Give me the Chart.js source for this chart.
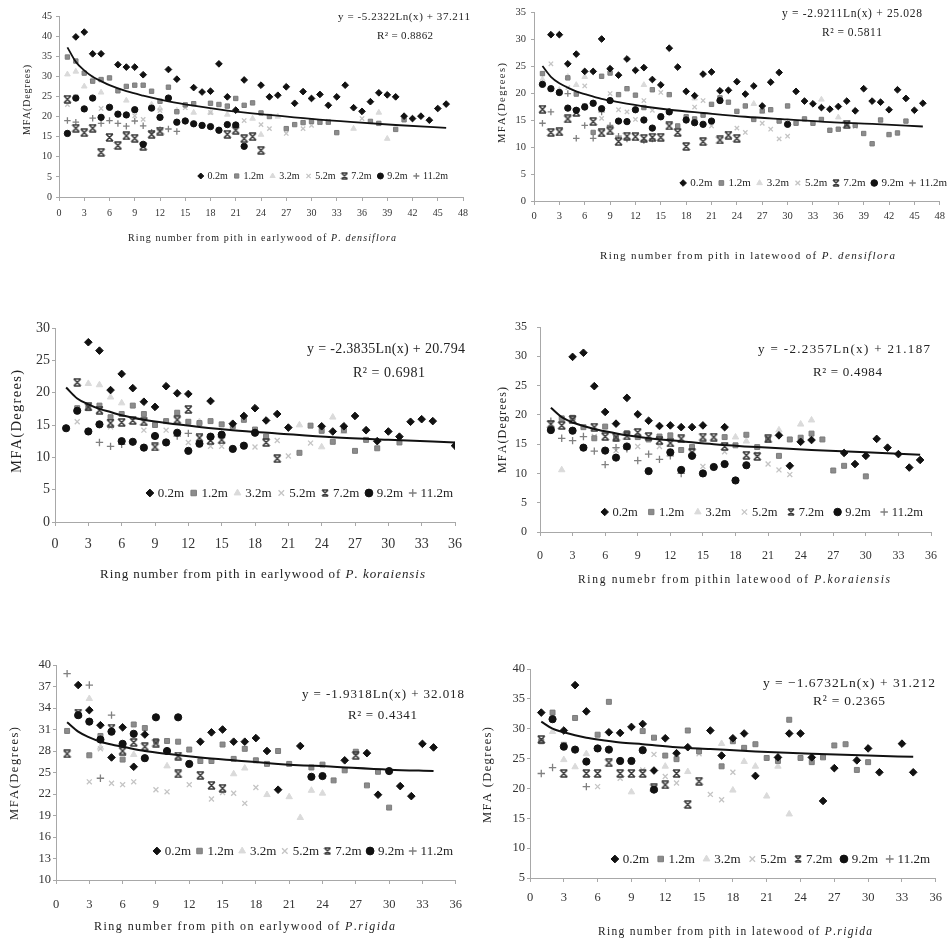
<!DOCTYPE html>
<html>
<head>
<meta charset="utf-8">
<script src="https://cdn.jsdelivr.net/npm/chart.js@4.4.1/dist/chart.umd.min.js"></script>
<style>
body { margin: 0; background: #fff; }
#wrap { position: relative; width: 950px; height: 942px; overflow: hidden; background: #fff; }
#wrap canvas { position: absolute; }
</style>
</head>
<body>
<div id="wrap"></div>
<script>
// series labels (sampling height)
var heights = ['0.2m', '1.2m', '3.2m', '5.2m', '7.2m', '9.2m', '11.2m'];

// ---- P. densiflora, earlywood ----
var densEw02 = [[2,39.8],[3,41.0],[4,35.6],[5,35.6],[7,32.9],[8,32.3],[9,32.3],[10,30.4],[13,31.7],[14,29.3],[16,27.2],[17,26.1],[18,26.3],[19,33.1],[20,24.9],[21,21.6],[22,29.1],[24,27.8],[25,24.9],[26,25.3],[27,27.4],[28,23.3],[29,26.2],[30,24.5],[31,25.5],[32,22.8],[33,24.9],[34,27.8],[35,22.2],[36,21.3],[37,23.7],[38,25.9],[39,25.4],[40,24.9],[41,20.1],[42,19.5],[43,20.1],[44,19.1],[45,22.0],[46,23.1]];
var densEw12 = [[1,34.8],[2,33.8],[3,30.8],[4,28.8],[5,29.2],[6,29.6],[7,26.4],[8,27.5],[9,27.8],[10,27.8],[11,26.3],[12,23.8],[13,27.3],[14,21.2],[15,22.9],[16,23.2],[18,23.3],[19,23.0],[20,22.6],[21,24.5],[22,22.8],[23,23.4],[24,20.9],[25,20.0],[27,17.0],[28,18.0],[29,18.5],[30,18.8],[31,18.6],[32,18.6],[33,16.0],[37,18.8],[38,18.3],[40,16.8],[41,19.2]];
var densEw32 = [[1,30.5],[2,31.2],[3,27.5],[4,29.5],[5,26.0],[8,24.0],[11,23.0],[12,22.0],[14,21.5],[16,21.0],[18,21.0],[20,20.5],[23,19.5],[24,15.5],[26,20.0],[35,17.0],[38,21.0],[39,14.5]];
var densEw52 = [[1,23.0],[2,25.0],[5,22.0],[9,20.2],[10,19.3],[12,21.5],[15,22.2],[18,21.0],[22,19.0],[24,18.0],[25,17.0],[27,15.8],[29,17.0],[30,17.8],[31,18.5],[32,18.8],[36,19.5]];
var densEw72 = [[1,24.3],[2,17.1],[3,16.0],[4,17.1],[5,11.1],[6,14.8],[7,12.8],[8,15.2],[9,14.6],[10,12.6],[11,15.6],[12,16.4],[20,15.6],[21,16.6],[22,14.5],[23,15.0],[24,11.6]];
var densEw92 = [[1,15.8],[2,24.6],[3,21.9],[4,24.6],[5,19.8],[6,22.3],[7,20.6],[8,20.4],[9,21.7],[10,13.1],[11,22.1],[12,19.8],[13,24.6],[14,18.6],[15,18.9],[16,18.2],[17,17.8],[18,17.5],[19,16.6],[20,18.0],[21,17.9],[22,12.6]];
var densEw112 = [[1,19.0],[2,18.6],[4,19.6],[5,18.3],[6,19.0],[7,18.3],[8,17.6],[9,18.9],[10,17.7],[11,16.1],[12,16.7],[13,16.9],[14,16.3]];
var densEwTrend = [[1,37.2],[2,33.6],[3,31.5],[4,29.9],[5,28.8],[6,27.8],[8,26.3],[10,25.2],[13,23.8],[16,22.7],[20,21.5],[25,20.4],[30,19.4],[35,18.6],[40,17.9],[46,17.2]];

// ---- P. densiflora, latewood ----
var densLw02 = [[2,30.8],[3,30.8],[4,25.4],[5,27.2],[6,24.0],[7,24.0],[8,30.0],[9,24.5],[10,23.3],[11,26.3],[12,24.2],[13,24.7],[14,22.5],[15,21.5],[16,28.3],[17,24.8],[18,20.3],[19,19.5],[20,23.5],[21,23.9],[22,20.4],[23,20.5],[24,22.1],[25,19.8],[26,21.3],[27,17.6],[28,22.0],[29,23.8],[31,20.3],[32,18.5],[33,18.0],[34,17.3],[35,17.0],[36,17.5],[37,18.5],[38,16.7],[39,20.8],[40,18.5],[41,18.3],[42,16.9],[43,20.6],[44,19.0],[45,16.8],[46,18.1]];
var densLw12 = [[1,23.6],[3,20.1],[4,22.8],[5,19.8],[6,17.6],[7,12.7],[8,23.1],[9,23.7],[10,19.7],[11,20.8],[12,19.6],[13,17.3],[14,20.6],[15,15.7],[16,19.7],[17,13.9],[18,15.6],[19,15.2],[20,15.9],[21,17.9],[22,19.1],[23,18.3],[24,16.6],[25,17.6],[26,15.1],[27,16.7],[28,16.9],[29,14.8],[30,17.6],[31,14.4],[32,15.2],[33,14.4],[34,15.1],[35,13.1],[36,13.3],[37,14.2],[38,14.0],[39,12.5],[40,10.6],[41,15.0],[42,12.3],[43,12.6],[44,14.8]];
var densLw32 = [[1,22.5],[3,20.6],[4,23.0],[5,21.5],[6,23.0],[13,21.5],[19,19.0],[26,18.0],[27,16.5],[34,18.8],[36,15.5]];
var densLw52 = [[2,25.4],[4,21.0],[6,21.3],[8,15.3],[9,19.9],[10,16.9],[11,16.5],[12,15.1],[13,18.6],[14,16.8],[15,20.1],[19,17.4],[20,18.6],[21,13.9],[24,13.5],[25,12.7],[27,14.4],[28,13.3],[29,11.5],[30,12.0],[38,13.8]];
var densLw72 = [[1,17.0],[2,12.7],[3,12.8],[4,15.2],[5,16.4],[7,14.7],[8,12.6],[9,13.0],[10,11.0],[11,12.0],[12,11.9],[13,11.6],[14,11.8],[15,11.8],[16,13.9],[17,12.7],[18,10.1],[20,11.0],[22,11.3],[23,12.2],[24,11.6],[37,14.2]];
var densLw92 = [[1,21.6],[2,20.8],[3,20.1],[4,17.2],[5,16.8],[6,17.4],[7,18.1],[8,17.1],[9,18.6],[10,14.8],[11,14.7],[12,16.9],[13,15.0],[14,13.5],[15,15.6],[16,16.5],[18,15.0],[19,14.5],[20,14.2],[21,14.8],[22,18.6],[30,14.2]];
var densLw112 = [[1,14.4],[2,16.5],[4,19.9],[5,11.6],[6,14.0],[7,11.6],[8,16.5],[9,14.0],[10,12.0],[11,11.5],[13,11.2],[14,11.5]];
var densLwTrend = [[1,25.0],[2,23.0],[3,21.8],[4,21.0],[5,20.3],[6,19.8],[8,18.9],[10,18.3],[13,17.5],[16,16.9],[20,16.3],[25,15.6],[30,15.1],[35,14.6],[40,14.3],[46,13.8]];

// ---- P. koraiensis, earlywood ----
var korEw02 = [[3,27.8],[4,26.5],[5,20.4],[6,22.9],[7,20.7],[8,18.6],[9,17.8],[10,21.0],[11,19.9],[12,19.8],[14,18.7],[16,15.2],[17,16.4],[18,17.6],[19,15.7],[20,16.7],[21,14.6],[24,14.8],[25,14.0],[26,14.8],[27,16.4],[28,14.2],[29,12.5],[30,14.0],[31,13.2],[32,15.5],[33,15.9],[34,15.6],[36,11.8]];
var korEw12 = [[2,17.6],[3,17.6],[4,18.0],[5,16.2],[6,16.7],[7,18.0],[8,16.7],[9,15.0],[10,15.6],[11,16.9],[12,15.5],[13,15.3],[14,15.6],[15,15.1],[16,14.8],[17,15.8],[18,14.3],[19,13.2],[22,10.7],[23,14.9],[24,14.1],[25,12.4],[26,14.2],[27,11.0],[28,12.7],[29,11.4],[31,12.3]];
var korEw32 = [[3,21.4],[4,21.2],[5,19.3],[6,18.4],[13,15.5],[22,15.0],[24,11.6],[25,16.2],[26,14.0]];
var korEw52 = [[2,15.5],[5,14.7],[8,14.2],[10,14.2],[12,12.3],[14,11.7],[15,11.7],[18,11.6],[20,12.6],[21,10.2],[23,12.2]];
var korEw72 = [[2,21.6],[3,17.8],[4,17.3],[5,15.3],[6,15.4],[7,15.7],[8,15.5],[9,11.6],[11,15.8],[12,17.4],[13,13.0],[14,12.6],[15,12.7],[19,12.3],[20,9.8]];
var korEw92 = [[1,14.5],[2,17.2],[3,14.0],[4,15.1],[6,12.5],[7,12.4],[8,11.5],[9,13.3],[10,12.3],[11,13.8],[12,11.0],[13,12.1],[14,13.2],[15,13.5],[16,11.3],[17,11.8],[18,13.8]];
var korEw112 = [[4,12.3],[5,11.7],[6,12.0],[11,13.3],[12,13.7]];
var korEwTrend = [[1,20.8],[2,19.1],[3,18.2],[4,17.5],[5,17.0],[6,16.5],[8,15.8],[10,15.3],[13,14.7],[16,14.2],[20,13.7],[25,13.1],[30,12.7],[36,12.3]];

// ---- P. koraiensis, latewood ----
var korLw02 = [[3,29.9],[4,30.6],[5,24.9],[6,20.5],[7,18.5],[8,22.9],[9,20.1],[10,19.0],[11,18.1],[12,18.2],[13,17.9],[14,17.9],[15,18.2],[17,17.9],[22,16.5],[23,11.3],[24,15.4],[25,15.7],[28,13.5],[29,11.6],[30,13.0],[31,15.9],[32,14.4],[33,13.3],[34,11.0],[35,12.3]];
var korLw12 = [[2,19.4],[3,19.5],[4,17.9],[5,16.0],[6,18.0],[7,16.0],[8,16.9],[9,16.2],[10,15.8],[11,16.3],[12,16.5],[13,14.0],[14,14.5],[17,16.2],[18,14.8],[19,16.6],[20,14.5],[21,15.8],[22,13.0],[23,15.8],[24,16.1],[25,16.8],[26,15.8],[27,10.5],[28,11.3],[30,9.5]];
var korLw32 = [[2,10.6],[18,16.2],[19,15.5],[22,17.4],[24,18.4],[25,19.1]];
var korLw52 = [[5,16.3],[7,13.9],[9,14.6],[11,14.6],[12,13.8],[15,11.2],[17,13.7],[20,13.3],[21,11.6],[22,10.6],[23,9.8]];
var korLw72 = [[1,18.4],[2,18.2],[3,19.2],[5,17.9],[6,16.3],[7,16.2],[8,16.4],[9,17.0],[10,16.3],[11,15.6],[12,15.2],[13,15.9],[14,13.6],[15,16.2],[16,16.2],[17,14.6],[19,13.1],[20,12.9],[21,15.9]];
var korLw92 = [[1,17.4],[3,17.3],[4,14.4],[6,13.9],[7,12.7],[8,14.6],[10,10.4],[12,13.6],[13,10.6],[14,13.0],[15,10.0],[16,11.1],[17,11.6],[18,8.8],[19,11.4]];
var korLw112 = [[1,18.9],[2,16.0],[3,15.6],[4,16.3],[5,13.8],[6,11.5],[7,14.4],[8,14.2],[9,12.2],[10,13.3],[11,12.4],[12,13.0],[13,10.0]];
var korLwTrend = [[1,21.2],[2,19.6],[3,18.7],[4,18.1],[5,17.6],[6,17.2],[8,16.5],[10,16.0],[13,15.5],[16,15.0],[20,14.5],[25,14.0],[30,13.6],[35,13.2]];

// ---- P. rigida, earlywood ----
var rigEw02 = [[2,37.2],[3,33.7],[4,31.6],[5,27.1],[6,31.3],[7,25.8],[8,30.3],[13,29.3],[14,30.6],[15,31.0],[16,29.3],[17,29.3],[18,29.8],[19,28.0],[20,22.6],[22,28.7],[26,26.7],[28,27.7],[29,21.9],[31,23.1],[32,21.7],[33,29.0],[34,28.5]];
var rigEw12 = [[1,30.8],[3,27.4],[4,30.1],[6,26.8],[7,31.7],[8,31.2],[9,29.4],[10,29.4],[11,29.3],[12,28.2],[13,26.6],[14,26.6],[15,28.9],[16,26.9],[17,28.3],[18,26.7],[19,26.2],[20,28.0],[21,26.2],[23,25.7],[24,26.1],[25,23.9],[26,25.3],[27,27.9],[28,23.2],[29,25.1],[30,20.1]];
var rigEw32 = [[3,35.3],[4,28.5],[7,27.5],[10,25.9],[11,27.1],[16,24.8],[17,25.6],[19,21.9],[21,21.6],[22,18.7],[23,22.5],[24,22.1]];
var rigEw52 = [[3,23.7],[4,28.3],[5,23.5],[6,23.3],[7,23.7],[9,22.6],[10,22.3],[12,23.3],[14,21.3],[15,22.2],[16,22.1],[17,20.7],[18,22.9]];
var rigEw72 = [[1,27.6],[2,33.3],[5,31.2],[6,28.0],[7,29.2],[8,28.6],[9,29.1],[11,24.8],[11,27.3],[13,24.6],[14,23.2],[15,22.8],[27,27.4]];
var rigEw92 = [[2,33.0],[3,32.1],[4,29.6],[5,30.7],[6,29.0],[7,30.4],[8,27.0],[9,32.7],[10,28.0],[11,32.7],[12,26.2],[23,24.4],[24,24.5],[30,25.2]];
var rigEw112 = [[1,38.8],[3,37.2],[4,24.2],[5,33.0]];
var rigEwTrend = [[1,32.0],[2,30.7],[3,29.9],[4,29.3],[5,28.9],[6,28.6],[8,28.0],[10,27.6],[13,27.1],[16,26.7],[20,26.2],[25,25.8],[30,25.4],[34,25.2]];

// ---- P. rigida, latewood ----
var rigLw02 = [[1,32.7],[3,29.7],[4,37.3],[5,32.9],[7,29.4],[8,29.3],[9,30.3],[10,30.8],[11,23.0],[12,28.4],[13,25.9],[14,26.9],[16,29.7],[17,25.5],[18,28.4],[19,29.2],[20,22.1],[22,25.2],[23,29.2],[24,29.2],[25,25.2],[26,17.9],[27,23.4],[29,24.7],[30,26.7],[31,22.7],[33,27.5],[34,22.7]];
var rigLw12 = [[1,27.9],[2,32.7],[3,27.3],[4,31.8],[6,29.0],[7,34.5],[10,29.6],[11,28.5],[12,25.5],[13,24.9],[14,29.7],[15,26.2],[17,23.7],[18,27.9],[19,26.8],[20,27.4],[21,25.1],[22,24.6],[23,31.5],[24,25.1],[25,24.4],[26,25.2],[27,27.2],[28,27.4],[29,23.1],[30,24.4]];
var rigLw32 = [[2,29.5],[3,24.8],[4,23.6],[5,25.8],[9,19.4],[12,23.7],[14,22.8],[17,27.5],[18,19.7],[19,24.5],[20,23.7],[21,18.7],[22,23.7],[23,15.7]];
var rigLw52 = [[6,20.3],[8,21.7],[10,23.1],[11,25.7],[12,22.0],[13,20.9],[15,25.8],[16,19.0],[17,18.1],[18,22.7]];
var rigLw72 = [[1,28.2],[3,22.5],[5,22.5],[6,22.5],[7,24.3],[8,22.5],[9,22.5],[10,22.5],[11,20.1],[12,20.6],[13,22.5],[14,17.3],[15,21.2]];
var rigLw92 = [[2,31.6],[3,27.0],[4,26.5],[5,24.5],[6,26.7],[7,26.5],[8,24.6],[9,24.6],[10,26.4],[11,19.8]];
var rigLw112 = [[1,22.5],[2,23.5],[5,20.3]];
var rigLwTrend = [[1,31.2],[2,30.0],[3,29.4],[4,28.9],[5,28.5],[6,28.2],[8,27.7],[10,27.4],[13,26.9],[16,26.6],[20,26.2],[25,25.8],[30,25.5],[34,25.3]];

var serif = '"Liberation Serif", "DejaVu Serif", serif';
Chart.defaults.font.family = serif;
Chart.defaults.color = '#333';
Chart.defaults.animation = false;

// small hourglass-like "x" marker for the 7.2m series
function makeHourglass(s) {
    var c = document.createElement('canvas');
    c.width = s; c.height = s;
    var g = c.getContext('2d');
    g.strokeStyle = '#3a3a3a';
    g.lineWidth = 1.5;
    g.beginPath();
    g.moveTo(1, 1); g.lineTo(s - 1, s - 1);
    g.moveTo(s - 1, 1); g.lineTo(1, s - 1);
    g.moveTo(1, 1); g.lineTo(s - 1, 1);
    g.moveTo(1, s - 1); g.lineTo(s - 1, s - 1);
    g.stroke();
    return c;
}
var hourglassSmall = makeHourglass(8);
var hourglassBig = makeHourglass(9);

// marker look for each height, same order as heights[]
var marks = [
    { style: 'rectRot', fill: '#111', line: '#111', bw: 1, r: 3.8 },
    { style: 'rect', fill: '#8c8c8c', line: '#7c7c7c', bw: 1, r: 3.5 },
    { style: 'triangle', fill: '#dadada', line: '#dadada', bw: 1, r: 3.7 },
    { style: 'crossRot', fill: '#c4c4c4', line: '#c4c4c4', bw: 1.3, r: 3.5 },
    { style: hourglassBig, fill: '#3a3a3a', line: '#3a3a3a', bw: 1, r: 4 },
    { style: 'circle', fill: '#111', line: '#111', bw: 1, r: 3.6 },
    { style: 'cross', fill: '#808080', line: '#808080', bw: 1.3, r: 3.7 }
];
// drawing order: lightest series at the back, trend line on top
var drawOrder = [0, 5, 4, 1, 6, 3, 2];

var panels = [
    {
        cx: 0, cy: 0, cw: 475, ch: 262, area: { l: 59, t: 16, r: 463, b: 197 }, ms: 0.88, lw: 1.8,
        xMax: 48, yMin: 0, yMax: 45, yStep: 5, tick: 10, xPad: 6, yPad: 4,
        series: [densEw02, densEw12, densEw32, densEw52, densEw72, densEw92, densEw112], trend: densEwTrend,
        xTitle: ['Ring number from pith in earlywood of ', 'P. densiflora'], xSpan: [128, 396], xTitleY: 238, xFont: 10,
        yTitle: 'MFA(Degrees)', yTitleX: 27, ySpan: [65, 135], yFont: 10,
        eq: 'y = -5.2322Ln(x) + 37.211', eqSpan: [338, 470], eqY: 17, r2: 'R\u00b2 = 0.8862', r2Span: [377, 433], r2Y: 36, eqFont: 11,
        leg: { x0: 197, x1: 448, y: 176, font: 10 }
    },
    {
        cx: 475, cy: 0, cw: 475, ch: 275, area: { l: 534, t: 12, r: 940, b: 201 }, ms: 0.88, lw: 1.8,
        xMax: 48, yMin: 0, yMax: 35, yStep: 5, tick: 10.5, xPad: 5, yPad: 5,
        series: [densLw02, densLw12, densLw32, densLw52, densLw72, densLw92, densLw112], trend: densLwTrend,
        xTitle: ['Ring number from pith in latewood of ', 'P. densiflora'], xSpan: [600, 895], xTitleY: 256, xFont: 11,
        yTitle: 'MFA(Degrees)', yTitleX: 502, ySpan: [63, 143], yFont: 10.5,
        eq: 'y = -2.9211Ln(x) + 25.028', eqSpan: [782, 922], eqY: 14, r2: 'R\u00b2 = 0.5811', r2Span: [822, 882], r2Y: 33, eqFont: 11.5,
        leg: { x0: 679, x1: 947, y: 183, font: 11 }
    },
    {
        cx: 0, cy: 300, cw: 475, ch: 290, area: { l: 55, t: 328, r: 455, b: 522 }, ms: 1, lw: 2,
        xMax: 36, yMin: 0, yMax: 30, yStep: 5, tick: 14, xPad: 10, yPad: 2,
        series: [korEw02, korEw12, korEw32, korEw52, korEw72, korEw92, korEw112], trend: korEwTrend,
        xTitle: ['Ring number from pith in earlywood of ', 'P. koraiensis'], xSpan: [100, 425], xTitleY: 575, xFont: 13,
        yTitle: 'MFA(Degrees)', yTitleX: 17, ySpan: [370, 473], yFont: 14.5,
        eq: 'y = -2.3835Ln(x) + 20.794', eqSpan: [307, 465], eqY: 349, r2: 'R\u00b2 = 0.6981', r2Span: [353, 425], r2Y: 373, eqFont: 14,
        leg: { x0: 145, x1: 453, y: 493, font: 13 }
    },
    {
        cx: 475, cy: 300, cw: 475, ch: 290, area: { l: 540, t: 327, r: 933, b: 532 }, ms: 1, lw: 2,
        xMax: 36, yMin: 0, yMax: 35, yStep: 5, tick: 12, xPad: 13, yPad: 10,
        series: [korLw02, korLw12, korLw32, korLw52, korLw72, korLw92, korLw112], trend: korLwTrend,
        xTitle: ['Ring numebr from pithin latewood of ', 'P.koraiensis'], xSpan: [578, 890], xTitleY: 580, xFont: 11.5,
        yTitle: 'MFA(Degrees)', yTitleX: 503, ySpan: [387, 473], yFont: 12,
        eq: 'y = -2.2357Ln(x) + 21.187', eqSpan: [758, 930], eqY: 350, r2: 'R\u00b2 = 0.4984', r2Span: [813, 882], r2Y: 373, eqFont: 13,
        leg: { x0: 600, x1: 923, y: 512, font: 12.5 }
    },
    {
        cx: 0, cy: 630, cw: 475, ch: 312, area: { l: 56, t: 665, r: 462, b: 880 }, ms: 1, lw: 2,
        xMax: 36, yMin: 10, yMax: 40, yStep: 3, tick: 12.5, xPad: 13, yPad: 2,
        series: [rigEw02, rigEw12, rigEw32, rigEw52, rigEw72, rigEw92, rigEw112], trend: rigEwTrend,
        xTitle: ['Ring number from pith on earlywood of ', 'P.rigida'], xSpan: [94, 395], xTitleY: 927, xFont: 12,
        yTitle: 'MFA(Degrees)', yTitleX: 15, ySpan: [727, 820], yFont: 12.5,
        eq: 'y = -1.9318Ln(x) + 32.018', eqSpan: [302, 464], eqY: 695, r2: 'R\u00b2 = 0.4341', r2Span: [348, 417], r2Y: 716, eqFont: 13,
        leg: { x0: 152, x1: 453, y: 851, font: 13 }
    },
    {
        cx: 475, cy: 630, cw: 475, ch: 312, area: { l: 530, t: 669, r: 940, b: 878 }, ms: 1, lw: 2,
        xMax: 36, yMin: 5, yMax: 40, yStep: 5, tick: 12.5, xPad: 8, yPad: 2,
        series: [rigLw02, rigLw12, rigLw32, rigLw52, rigLw72, rigLw92, rigLw112], trend: rigLwTrend,
        xTitle: ['Ring number from pith in latewood of ', 'P.rigida'], xSpan: [598, 872], xTitleY: 932, xFont: 11.5,
        yTitle: 'MFA (Degrees)', yTitleX: 488, ySpan: [727, 823], yFont: 12.5,
        eq: 'y = \u22121.6732Ln(x) + 31.212', eqSpan: [763, 935], eqY: 683, r2: 'R\u00b2 = 0.2365', r2Span: [813, 885], r2Y: 701, eqFont: 13.5,
        leg: { x0: 610, x1: 930, y: 859, font: 13 }
    }
];

function toPoints(arr) {
    return arr.map(function (p) { return { x: p[0], y: p[1] }; });
}

function drawMark(ctx, m, x, y, r) {
    ctx.fillStyle = m.fill;
    ctx.strokeStyle = m.line;
    ctx.lineWidth = m.bw;
    var style = m.style === hourglassBig ? hourglassSmall : m.style;
    if (Chart.helpers && Chart.helpers.drawPoint) {
        Chart.helpers.drawPoint(ctx, { pointStyle: style, radius: r, rotation: 0, borderWidth: m.bw }, x, y);
    } else {
        ctx.beginPath();
        ctx.arc(x, y, r, 0, Math.PI * 2);
        ctx.fill();
    }
}

// draw text segments spread letter by letter over [x0, x1]
function spreadText(ctx, segs, x0, x1, y) {
    var chars = [];
    segs.forEach(function (s) {
        ctx.font = s.font;
        for (var i = 0; i < s.text.length; i++) {
            var ch = s.text[i];
            chars.push({ ch: ch, font: s.font, w: ctx.measureText(ch).width });
        }
    });
    var natural = chars.reduce(function (a, c) { return a + c.w; }, 0);
    var sp = chars.length > 1 ? (x1 - x0 - natural) / (chars.length - 1) : 0;
    var x = x0;
    ctx.textAlign = 'left';
    chars.forEach(function (c) {
        ctx.font = c.font;
        ctx.fillText(c.ch, x, y);
        x += c.w + sp;
    });
}

// titles, equation and the in-plot legend
function overlay(p) {
    return {
        id: 'overlay',
        afterDraw: function (chart) {
            var ctx = chart.ctx;
            ctx.save();
            ctx.translate(-p.cx, -p.cy);
            ctx.fillStyle = '#222';
            ctx.textBaseline = 'middle';

            // y axis title
            ctx.save();
            var ymid = (p.ySpan[0] + p.ySpan[1]) / 2, yh = (p.ySpan[1] - p.ySpan[0]) / 2;
            ctx.translate(p.yTitleX, ymid);
            ctx.rotate(-Math.PI / 2);
            spreadText(ctx, [{ text: p.yTitle, font: p.yFont + 'px ' + serif }], -yh, yh, 0);
            ctx.restore();

            // x axis title, species name in italics
            spreadText(ctx, [
                { text: p.xTitle[0], font: p.xFont + 'px ' + serif },
                { text: p.xTitle[1], font: 'italic ' + p.xFont + 'px ' + serif }
            ], p.xSpan[0], p.xSpan[1], p.xTitleY);

            // trend equation
            var ef = p.eqFont + 'px ' + serif;
            spreadText(ctx, [{ text: p.eq, font: ef }], p.eqSpan[0], p.eqSpan[1], p.eqY);
            spreadText(ctx, [{ text: p.r2, font: ef }], p.r2Span[0], p.r2Span[1], p.r2Y);

            // legend row
            var lf = p.leg.font;
            ctx.font = lf + 'px ' + serif;
            var mw = lf * 0.75, gap = 3;
            var widths = heights.map(function (h) { return mw + gap + ctx.measureText(h).width; });
            var total = widths.reduce(function (a, b) { return a + b; }, 0);
            var space = (p.leg.x1 - p.leg.x0 - total) / (heights.length - 1);
            var x = p.leg.x0;
            ctx.textAlign = 'left';
            for (var i = 0; i < heights.length; i++) {
                drawMark(ctx, marks[i], x + mw / 2, p.leg.y, lf * 0.3);
                ctx.fillStyle = '#222';
                ctx.font = lf + 'px ' + serif;
                ctx.fillText(heights[i], x + mw + gap, p.leg.y + 0.5);
                x += widths[i] + space;
            }
            ctx.restore();
        }
    };
}

var wrap = document.getElementById('wrap');

panels.forEach(function (p) {
    var canvas = document.createElement('canvas');
    canvas.width = p.cw;
    canvas.height = p.ch;
    canvas.style.left = p.cx + 'px';
    canvas.style.top = p.cy + 'px';
    wrap.appendChild(canvas);

    var datasets = [{
        type: 'line',
        label: 'trend',
        data: toPoints(p.trend),
        borderColor: '#111',
        borderWidth: p.lw,
        pointRadius: 0,
        fill: false,
        cubicInterpolationMode: 'monotone'
    }];
    drawOrder.forEach(function (i) {
        var m = marks[i];
        datasets.push({
            type: 'scatter',
            label: heights[i],
            data: toPoints(p.series[i]),
            pointStyle: m.style,
            pointRadius: m.r * p.ms,
            pointBackgroundColor: m.fill,
            pointBorderColor: m.line,
            pointBorderWidth: m.bw,
            showLine: false
        });
    });

    var axisColor = '#a8a8a8';
    new Chart(canvas, {
        type: 'scatter',
        data: { datasets: datasets },
        options: {
            responsive: false,
            devicePixelRatio: 1,
            events: [],
            layout: {
                padding: {
                    left: 0,
                    top: p.area.t - p.cy,
                    right: p.cx + p.cw - p.area.r,
                    bottom: 0
                }
            },
            plugins: { legend: { display: false }, tooltip: { enabled: false } },
            scales: {
                x: {
                    type: 'linear',
                    min: 0,
                    max: p.xMax,
                    afterFit: function (s) { s.height = p.cy + p.ch - p.area.b; },
                    ticks: { stepSize: 3, autoSkip: false, maxRotation: 0, padding: p.xPad, font: { size: p.tick }, color: '#333' },
                    grid: { drawOnChartArea: false, color: axisColor, tickLength: 4 },
                    border: { color: axisColor }
                },
                y: {
                    type: 'linear',
                    min: p.yMin,
                    max: p.yMax,
                    afterFit: function (s) { s.width = p.area.l - p.cx; },
                    ticks: { stepSize: p.yStep, autoSkip: false, padding: p.yPad, font: { size: p.tick }, color: '#333' },
                    grid: { drawOnChartArea: false, color: axisColor, tickLength: 3 },
                    border: { color: axisColor }
                }
            }
        },
        plugins: [overlay(p)]
    });
});
</script>
</body>
</html>
